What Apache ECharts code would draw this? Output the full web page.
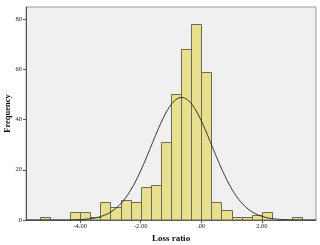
<!DOCTYPE html>
<html>
<head>
<meta charset="utf-8">
<script src="https://cdn.jsdelivr.net/npm/echarts@6/dist/echarts.min.js"></script>
<style>
html,body{margin:0;padding:0;background:#fff;}
#c{width:320px;height:245px;}
</style>
</head>
<body>
<div id="c"></div>
<script>
// Histogram bins (left edges, width 1/3) and counts
var binWidth = 1 / 3;
var binLeft = [-16/3, -15/3, -14/3, -13/3, -12/3, -11/3, -10/3, -9/3, -8/3, -7/3,
               -6/3, -5/3, -4/3, -3/3, -2/3, -1/3, 0, 1/3, 2/3, 3/3,
               4/3, 5/3, 6/3, 7/3, 8/3, 9/3];
var counts = [1, 0, 0, 3, 3, 1, 7, 5, 8, 7,
              13, 14, 31, 50, 68, 78, 59, 7, 4, 1,
              1, 2, 3, 0, 0, 1];
// Fitted normal curve parameters (estimated)
var fitMean = -0.65;
var fitSD = 1.0;
var xTicks = [-4, -2, 0, 2];
var yTicks = [0, 20, 40, 60, 80];
var xMin = -5.79, xMax = 3.79, yMax = 84.8;

var N = counts.reduce(function (a, b) { return a + b; }, 0);
var barData = [];
for (var i = 0; i < binLeft.length; i++) {
  if (counts[i] > 0) barData.push([binLeft[i], binLeft[i] + binWidth, counts[i]]);
}
var curve = [];
var steps = 300;
for (var k = 0; k <= steps; k++) {
  var x = xMin + (xMax - xMin) * k / steps;
  var z = (x - fitMean) / fitSD;
  curve.push([x, N * binWidth * Math.exp(-0.5 * z * z) / (fitSD * Math.sqrt(2 * Math.PI))]);
}

var serif = '"Liberation Serif", "DejaVu Serif", serif';
var chart = echarts.init(document.getElementById('c'));
chart.setOption({
  animation: false,
  backgroundColor: '#ffffff',
  grid: {
    left: 26, right: 4, top: 7, bottom: 25,
    show: true, backgroundColor: '#f0f0f0', borderColor: '#9a9a9a', borderWidth: 1,
    containLabel: false, outerBoundsMode: 'none'
  },
  xAxis: {
    type: 'value', min: xMin, max: xMax,
    name: 'Loss ratio', nameLocation: 'middle', nameGap: 14, nameMoveOverlap: false,
    nameTextStyle: { fontFamily: serif, fontWeight: 'bold', fontSize: 9, color: '#111' },
    axisLine: { show: true, onZero: false, lineStyle: { color: '#555', width: 1 } },
    axisTick: { show: true, length: 3, customValues: xTicks, lineStyle: { color: '#555' } },
    axisLabel: {
      customValues: xTicks, margin: 3, fontFamily: serif, fontSize: 6.5, color: '#222',
      formatter: function (v) { return v === 0 ? '.00' : v.toFixed(2); }
    },
    splitLine: { show: false }
  },
  yAxis: {
    type: 'value', min: 0, max: yMax,
    name: 'Frequency', nameLocation: 'middle', nameGap: 14, nameRotate: 90, nameMoveOverlap: false,
    nameTextStyle: { fontFamily: serif, fontWeight: 'bold', fontSize: 8.5, color: '#111' },
    axisLine: { show: true, onZero: false, lineStyle: { color: '#555', width: 1 } },
    axisTick: { show: true, length: 3, customValues: yTicks, lineStyle: { color: '#555' } },
    axisLabel: { customValues: yTicks, margin: 4, fontFamily: serif, fontSize: 6.5, color: '#222' },
    splitLine: { show: false }
  },
  series: [
    {
      type: 'custom',
      data: barData,
      encode: { x: [0, 1], y: 2 },
      renderItem: function (params, api) {
        var p0 = api.coord([api.value(0), api.value(2)]);
        var p1 = api.coord([api.value(1), 0]);
        var x0 = Math.round(p0[0]) + 0.5, x1 = Math.round(p1[0]) + 0.5;
        var y0 = Math.round(p0[1]) + 0.5, y1 = Math.round(p1[1]);
        return {
          type: 'rect',
          shape: { x: x0, y: y0, width: x1 - x0, height: y1 - y0 },
          style: { fill: '#e8e08e', stroke: '#6e6a52', lineWidth: 1 }
        };
      },
      z: 2
    },
    {
      type: 'line',
      data: curve,
      showSymbol: false,
      smooth: false,
      lineStyle: { color: '#333', width: 1 },
      z: 3
    }
  ]
});
</script>
</body>
</html>
